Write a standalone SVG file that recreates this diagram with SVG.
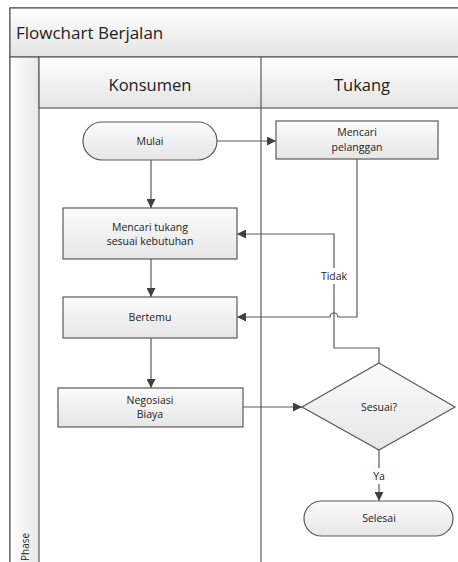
<svg xmlns="http://www.w3.org/2000/svg" width="458" height="562" viewBox="0 0 458 562">
<defs>
<linearGradient id="gv" x1="0" y1="0" x2="0" y2="1"><stop offset="0" stop-color="#ffffff"/><stop offset="1" stop-color="#e4e4e4"/></linearGradient>
<linearGradient id="gh" x1="0" y1="0" x2="1" y2="0"><stop offset="0" stop-color="#ffffff"/><stop offset="1" stop-color="#e8e8e8"/></linearGradient>
<linearGradient id="gb" x1="0" y1="0" x2="0" y2="1"><stop offset="0" stop-color="#fbfbfb"/><stop offset="1" stop-color="#e6e6e6"/></linearGradient>
<marker id="arr" viewBox="0 0 10 10" refX="10" refY="5" markerWidth="9" markerHeight="9" markerUnits="userSpaceOnUse" orient="auto"><path d="M0,0 L10,5 L0,10 z" fill="#404040"/></marker>
</defs>
<style>
.frame{fill:none;stroke:#5a5a5a;stroke-width:1.2}
.shape{fill:url(#gb);stroke:#5a5a5a;stroke-width:1.2}
.con{fill:none;stroke:#5a5a5a;stroke-width:1.2}
.t{font-family:"Open Sans","Liberation Sans",sans-serif;fill:#222;text-anchor:middle}
.s{font-size:10.5px}
.h{font-size:16.5px}
.lbl{fill:#fff}
</style>
<g id="pool">
<rect x="10" y="8" width="460" height="560" fill="#fff" stroke="#5a5a5a" stroke-width="1.2"/>
<rect x="10" y="8" width="460" height="49" fill="url(#gv)" stroke="#5a5a5a" stroke-width="1.2"/>
<text x="16" y="39" class="t" style="text-anchor:start;font-size:17px">Flowchart Berjalan</text>
<rect x="10" y="57" width="29" height="510" fill="url(#gh)" stroke="#5a5a5a" stroke-width="1.2"/>
<text class="t" transform="translate(29,561) rotate(-90)" style="text-anchor:start;font-size:10px">Phase</text>
<rect x="39" y="57" width="431" height="51" fill="url(#gv)" stroke="#5a5a5a" stroke-width="1.2"/>
<line x1="261" y1="57" x2="261" y2="562" class="frame"/>
<text x="150" y="91" class="t h">Konsumen</text>
<text x="362" y="91" class="t h">Tukang</text>
</g>
<g id="connectors">
<path d="M217,141 H276" class="con" marker-end="url(#arr)"/>
<path d="M151,160 V208" class="con" marker-end="url(#arr)"/>
<path d="M151,259 V297" class="con" marker-end="url(#arr)"/>
<path d="M151,338 V388" class="con" marker-end="url(#arr)"/>
<path d="M357,159 V317 H338 A4,4 0 0 0 330,317 H237" class="con" marker-end="url(#arr)"/>
<path d="M379,363 V348 H334 V234 H237" class="con" marker-end="url(#arr)"/>
<path d="M243,407 H302" class="con" marker-end="url(#arr)"/>
<path d="M379,450 V501" class="con" marker-end="url(#arr)"/>
<rect x="316" y="268" width="36" height="16" class="lbl"/>
<text x="334" y="280" class="t s">Tidak</text>
<rect x="370" y="468" width="18" height="16" class="lbl"/>
<text x="379" y="480" class="t s">Ya</text>
</g>
<g id="mulai">
<rect x="83" y="122" width="134" height="38" rx="19" class="shape"/>
<text x="150" y="145" class="t s">Mulai</text>
</g>
<g id="mencari-pelanggan">
<rect x="276" y="121" width="162" height="38" class="shape"/>
<text x="357" y="136" class="t s">Mencari</text>
<text x="357" y="150.5" class="t s">pelanggan</text>
</g>
<g id="mencari-tukang">
<rect x="63" y="208" width="174" height="51" class="shape"/>
<text x="150" y="230.5" class="t s">Mencari tukang</text>
<text x="150" y="245" class="t s">sesuai kebutuhan</text>
</g>
<g id="bertemu">
<rect x="63" y="297" width="174" height="41" class="shape"/>
<text x="150" y="321" class="t s">Bertemu</text>
</g>
<g id="negosiasi">
<rect x="58" y="388" width="185" height="39" class="shape"/>
<text x="150" y="403.5" class="t s">Negosiasi</text>
<text x="150" y="418" class="t s">Biaya</text>
</g>
<g id="sesuai">
<polygon points="379,363 455,407 379,450 302,407" class="shape"/>
<text x="379" y="411" class="t s">Sesuai?</text>
</g>
<g id="selesai">
<rect x="304" y="501" width="149" height="35" rx="17.5" class="shape"/>
<text x="379" y="522" class="t s">Selesai</text>
</g>
</svg>
